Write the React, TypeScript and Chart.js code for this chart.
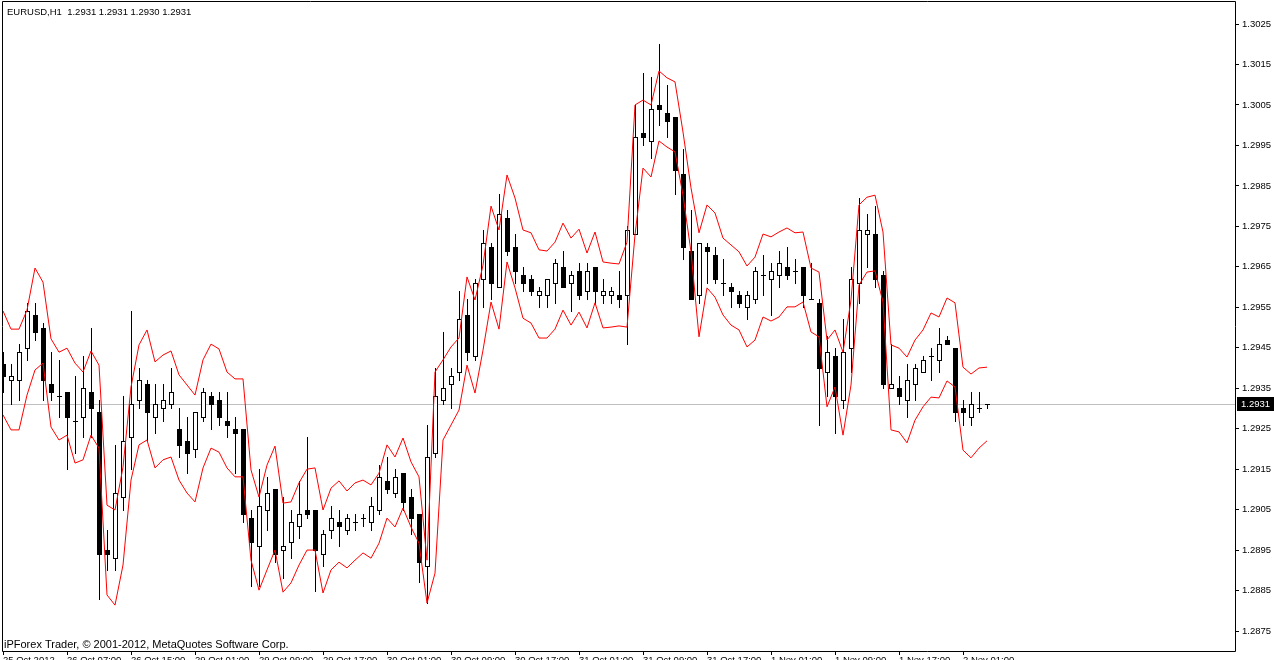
import React, { useEffect, useRef } from 'react';
import { Chart, registerables } from 'chart.js';

Chart.register(...registerables);

// ---- data (EURUSD H1) ----
const opens = [
  1.2941, 1.2937, 1.2937, 1.2945, 1.2953, 1.2950, 1.2936, 1.2933, 1.2934, 1.2927,
  1.2928, 1.2934, 1.2929, 1.2895, 1.2893, 1.2908, 1.2923, 1.2932, 1.2936, 1.2928,
  1.2930, 1.2931, 1.2925, 1.2922, 1.2920, 1.2928, 1.2933, 1.2932, 1.2927, 1.2925,
  1.2925, 1.2903, 1.2896, 1.2905, 1.2910, 1.2895, 1.2897, 1.2901, 1.2905, 1.2905,
  1.2894, 1.2900, 1.2902, 1.2900, 1.2902, 1.2903, 1.2902, 1.2905, 1.2912, 1.2909,
  1.2914, 1.2908, 1.2904, 1.2891, 1.2919, 1.2932, 1.2936, 1.2939, 1.2953, 1.2943,
  1.2962, 1.2970, 1.2960, 1.2977, 1.2970, 1.2963, 1.2962, 1.2958, 1.2958, 1.2961,
  1.2965, 1.2961, 1.2964, 1.2959, 1.2965, 1.2958, 1.2958, 1.2958, 1.2958, 1.2973,
  1.2998, 1.2996, 1.3005, 1.3003, 1.3002, 1.2988, 1.2969, 1.2958, 1.2970, 1.2968,
  1.2961, 1.2960, 1.2958, 1.2955, 1.2957, 1.2963, 1.2962, 1.2963, 1.2965, 1.2964,
  1.2965, 1.2957, 1.2956, 1.2939, 1.2943, 1.2932, 1.2945, 1.2961, 1.2973, 1.2973,
  1.2963, 1.2935, 1.2935, 1.2932, 1.2936, 1.2939, 1.2943, 1.2942, 1.2947, 1.2945,
  1.2930, 1.2928, 1.2930, 1.2931,
];
const highs = [
  1.2944, 1.2941, 1.2946, 1.2956, 1.2956, 1.2951, 1.2944, 1.2942, 1.2934, 1.2938,
  1.2943, 1.2950, 1.2932, 1.2900, 1.2921, 1.2933, 1.2954, 1.2940, 1.2937, 1.2936,
  1.2936, 1.2940, 1.2930, 1.2928, 1.2929, 1.2935, 1.2934, 1.2934, 1.2934, 1.2928,
  1.2925, 1.2905, 1.2915, 1.2913, 1.2910, 1.2908, 1.2905, 1.2912, 1.2923, 1.2905,
  1.2900, 1.2906, 1.2905, 1.2904, 1.2904, 1.2904, 1.2908, 1.2916, 1.2918, 1.2915,
  1.2914, 1.2910, 1.2904, 1.2926, 1.2940, 1.2949, 1.2940, 1.2959, 1.2957, 1.2962,
  1.2974, 1.2971, 1.2983, 1.2979, 1.2973, 1.2965, 1.2963, 1.2960, 1.2962, 1.2967,
  1.2969, 1.2964, 1.2966, 1.2966, 1.2965, 1.2962, 1.2960, 1.2964, 1.2975, 1.3005,
  1.3013, 1.3012, 1.3020, 1.3010, 1.3002, 1.2994, 1.2979, 1.2971, 1.2971, 1.2970,
  1.2967, 1.2961, 1.2959, 1.2959, 1.2965, 1.2968, 1.2966, 1.2969, 1.2970, 1.2967,
  1.2965, 1.2966, 1.2957, 1.2948, 1.2945, 1.2952, 1.2965, 1.2982, 1.2978, 1.2980,
  1.2964, 1.2946, 1.2938, 1.2941, 1.2941, 1.2943, 1.2945, 1.2950, 1.2948, 1.2945,
  1.2932, 1.2934, 1.2934, 1.2931,
];
const lows = [
  1.2934, 1.2931, 1.2932, 1.2942, 1.2947, 1.2932, 1.2932, 1.2928, 1.2915, 1.2919,
  1.2923, 1.2923, 1.2883, 1.2890, 1.2890, 1.2905, 1.2915, 1.2930, 1.2922, 1.2924,
  1.2927, 1.2930, 1.2918, 1.2914, 1.2918, 1.2927, 1.2925, 1.2926, 1.2923, 1.2914,
  1.2902, 1.2886, 1.2886, 1.2900, 1.2892, 1.2888, 1.2893, 1.2898, 1.2903, 1.2885,
  1.2891, 1.2898, 1.2896, 1.2899, 1.2900, 1.2901, 1.2900, 1.2904, 1.2909, 1.2908,
  1.2905, 1.2899, 1.2887, 1.2882, 1.2918, 1.2931, 1.2930, 1.2937, 1.2942, 1.2942,
  1.2955, 1.2957, 1.2960, 1.2968, 1.2961, 1.2959, 1.2958, 1.2955, 1.2955, 1.2956,
  1.2960, 1.2954, 1.2957, 1.2957, 1.2956, 1.2956, 1.2956, 1.2955, 1.2946, 1.2973,
  1.2995, 1.2992, 1.3000, 1.2997, 1.2983, 1.2967, 1.2957, 1.2956, 1.2961, 1.2961,
  1.2958, 1.2955, 1.2955, 1.2952, 1.2956, 1.2958, 1.2953, 1.2960, 1.2962, 1.2961,
  1.2955, 1.2957, 1.2926, 1.2933, 1.2924, 1.2930, 1.2939, 1.2956, 1.2965, 1.2960,
  1.2935, 1.2935, 1.2931, 1.2928, 1.2932, 1.2939, 1.2937, 1.2939, 1.2946, 1.2927,
  1.2926, 1.2926, 1.2929, 1.2930,
];
const closes = [
  1.2938, 1.2938, 1.2944, 1.2954, 1.2949, 1.2937, 1.2934, 1.2933, 1.2928, 1.2927,
  1.2935, 1.2930, 1.2894, 1.2894, 1.2909, 1.2922, 1.2931, 1.2937, 1.2929, 1.2931,
  1.2932, 1.2934, 1.2921, 1.2919, 1.2929, 1.2934, 1.2931, 1.2928, 1.2926, 1.2924,
  1.2904, 1.2897, 1.2906, 1.2909, 1.2894, 1.2896, 1.2902, 1.2904, 1.2904, 1.2895,
  1.2899, 1.2903, 1.2901, 1.2903, 1.2902, 1.2903, 1.2906, 1.2913, 1.2910, 1.2913,
  1.2907, 1.2903, 1.2892, 1.2918, 1.2933, 1.2935, 1.2938, 1.2952, 1.2944, 1.2961,
  1.2971, 1.2961, 1.2978, 1.2969, 1.2964, 1.2961, 1.2959, 1.2959, 1.2962, 1.2966,
  1.2960, 1.2963, 1.2958, 1.2964, 1.2959, 1.2959, 1.2959, 1.2957, 1.2974, 1.2997,
  1.2997, 1.3004, 1.3004, 1.3001, 1.2989, 1.2970, 1.2957, 1.2971, 1.2969, 1.2962,
  1.2961, 1.2959, 1.2956, 1.2958, 1.2964, 1.2963, 1.2964, 1.2966, 1.2963, 1.2964,
  1.2958, 1.2957, 1.2940, 1.2944, 1.2933, 1.2944, 1.2962, 1.2974, 1.2974, 1.2962,
  1.2936, 1.2936, 1.2933, 1.2937, 1.2940, 1.2942, 1.2943, 1.2946, 1.2946, 1.2929,
  1.2929, 1.2931, 1.2930, 1.2931,
];
const upperBand = [
  1.29541, 1.29496, 1.29496, 1.29543, 1.29647, 1.29612, 1.29472, 1.29439, 1.29449, 1.29412,
  1.29390, 1.29442, 1.29407, 1.29061, 1.29049, 1.29155, 1.29353, 1.29457, 1.29494, 1.29415,
  1.29432, 1.29442, 1.29383, 1.29358, 1.29333, 1.29420, 1.29459, 1.29447, 1.29390, 1.29373,
  1.29373, 1.29148, 1.29081, 1.29160, 1.29207, 1.29066, 1.29069, 1.29116, 1.29150, 1.29153,
  1.29049, 1.29103, 1.29121, 1.29096, 1.29116, 1.29123, 1.29111, 1.29140, 1.29210, 1.29180,
  1.29227, 1.29168, 1.29131, 1.28925, 1.29390, 1.29420, 1.29452, 1.29474, 1.29625, 1.29568,
  1.29654, 1.29800, 1.29741, 1.29877, 1.29820, 1.29741, 1.29734, 1.29692, 1.29689, 1.29711,
  1.29758, 1.29721, 1.29743, 1.29684, 1.29736, 1.29662, 1.29659, 1.29657, 1.29711, 1.30050,
  1.30062, 1.30050, 1.30134, 1.30117, 1.30107, 1.29983, 1.29845, 1.29734, 1.29803, 1.29783,
  1.29721, 1.29704, 1.29687, 1.29652, 1.29674, 1.29731, 1.29724, 1.29736, 1.29746, 1.29734,
  1.29736, 1.29647, 1.29637, 1.29469, 1.29494, 1.29439, 1.29568, 1.29803, 1.29822, 1.29827,
  1.29736, 1.29457, 1.29449, 1.29427, 1.29469, 1.29494, 1.29536, 1.29526, 1.29573, 1.29561,
  1.29402, 1.29385, 1.29400, 1.29402,
];
const lowerBand = [
  1.29284, 1.29247, 1.29247, 1.29333, 1.29395, 1.29412, 1.29254, 1.29222, 1.29234, 1.29165,
  1.29173, 1.29234, 1.29202, 1.28839, 1.28814, 1.28913, 1.29123, 1.29210, 1.29222, 1.29153,
  1.29173, 1.29180, 1.29123, 1.29091, 1.29069, 1.29153, 1.29202, 1.29192, 1.29153, 1.29131,
  1.29131, 1.28925, 1.28851, 1.28901, 1.28950, 1.28846, 1.28869, 1.28913, 1.28950, 1.28950,
  1.28844, 1.28901, 1.28920, 1.28906, 1.28925, 1.28943, 1.28930, 1.28967, 1.29029, 1.29007,
  1.29054, 1.29007, 1.28967, 1.28819, 1.28893, 1.29222, 1.29259, 1.29296, 1.29407, 1.29338,
  1.29444, 1.29563, 1.29496, 1.29662, 1.29598, 1.29523, 1.29511, 1.29474, 1.29474, 1.29496,
  1.29543, 1.29506, 1.29538, 1.29499, 1.29561, 1.29499, 1.29501, 1.29504, 1.29501, 1.29729,
  1.29894, 1.29872, 1.29961, 1.29946, 1.29934, 1.29827, 1.29687, 1.29477, 1.29598, 1.29575,
  1.29531, 1.29506, 1.29494, 1.29452, 1.29469, 1.29526, 1.29516, 1.29526, 1.29551, 1.29551,
  1.29563, 1.29489, 1.29477, 1.29304, 1.29353, 1.29234, 1.29358, 1.29605, 1.29637, 1.29640,
  1.29563, 1.29247, 1.29242, 1.29215, 1.29271, 1.29304, 1.29328, 1.29326, 1.29368, 1.29353,
  1.29197, 1.29178, 1.29202, 1.29220,
];
const timeTickLabels = [
  '25 Oct 2012', '26 Oct 07:00', '26 Oct 15:00', '29 Oct 01:00', '29 Oct 09:00',
  '29 Oct 17:00', '30 Oct 01:00', '30 Oct 09:00', '30 Oct 17:00', '31 Oct 01:00',
  '31 Oct 09:00', '31 Oct 17:00', '1 Nov 01:00', '1 Nov 09:00', '1 Nov 17:00', '2 Nov 01:00',
];
const barsPerTimeLabel = 8;
const priceTicks = [
  1.2875, 1.2885, 1.2895, 1.2905, 1.2915, 1.2925, 1.2935, 1.2945,
  1.2955, 1.2965, 1.2975, 1.2985, 1.2995, 1.3005, 1.3015, 1.3025,
];
const symbolName = 'EURUSD';
const timeframe = 'H1';
const copyrightText = 'iPForex Trader, \u00A9 2001-2012, MetaQuotes Software Corp.';

const FONT_FAMILY = '"Liberation Sans", Arial, sans-serif';
const FONT_SIZE = 9.5;
const FONT = `${FONT_SIZE}px ${FONT_FAMILY}`;
const COPY_FONT = `11px ${FONT_FAMILY}`;

const mtPlugin = {
  id: 'mtPlugin',
  beforeDraw(chart: any) {
    const ctx = chart.ctx;
    ctx.save();
    ctx.fillStyle = '#FFFFFF';
    ctx.fillRect(0, 0, chart.width, chart.height);
    ctx.restore();
  },
  beforeDatasetsDraw(chart: any) {
    const ctx = chart.ctx;
    const xs = chart.scales.x;
    const ys = chart.scales.y;
    const a = chart.chartArea;
    ctx.save();
    ctx.beginPath();
    ctx.rect(a.left, a.top, a.right - a.left, a.bottom - a.top);
    ctx.clip();
    const last = closes[closes.length - 1];
    const py = Math.round(ys.getPixelForValue(last));
    ctx.fillStyle = '#C0C0C0';
    ctx.fillRect(a.left, py, a.right - a.left, 1);
    for (let i = 0; i < closes.length; i++) {
      const x = Math.round(xs.getPixelForValue(i));
      const yH = Math.round(ys.getPixelForValue(highs[i]));
      const yL = Math.round(ys.getPixelForValue(lows[i]));
      const yO = Math.round(ys.getPixelForValue(opens[i]));
      const yC = Math.round(ys.getPixelForValue(closes[i]));
      ctx.fillStyle = '#000000';
      ctx.fillRect(x, yH, 1, yL - yH + 1);
      const top = Math.min(yO, yC);
      const bot = Math.max(yO, yC);
      if (bot === top) {
        ctx.fillRect(x - 2, top, 5, 1);
      } else {
        ctx.fillRect(x - 2, top, 5, bot - top + 1);
        if (closes[i] > opens[i] && bot - top >= 2) {
          ctx.fillStyle = '#FFFFFF';
          ctx.fillRect(x - 1, top + 1, 3, bot - top - 1);
        }
      }
    }
    ctx.restore();
  },
  afterDraw(chart: any) {
    const ctx = chart.ctx;
    const ys = chart.scales.y;
    const a = chart.chartArea;
    ctx.save();
    ctx.strokeStyle = '#000000';
    ctx.lineWidth = 1;
    ctx.beginPath();
    ctx.moveTo(a.left + 0.5, a.top - 0.5);
    ctx.lineTo(a.right + 0.5, a.top - 0.5);
    ctx.lineTo(a.right + 0.5, a.bottom + 0.5);
    ctx.lineTo(a.left + 0.5, a.bottom + 0.5);
    ctx.closePath();
    ctx.stroke();
    const n = closes.length - 1;
    const title = `${symbolName},${timeframe}  ${opens[n].toFixed(4)} ${highs[n].toFixed(4)} ${lows[n].toFixed(4)} ${closes[n].toFixed(4)}`;
    ctx.font = FONT;
    ctx.fillStyle = '#000000';
    ctx.textBaseline = 'alphabetic';
    ctx.textAlign = 'left';
    ctx.fillText(title, 7, 14.5);
    ctx.font = COPY_FONT;
    ctx.fillText(copyrightText, 4, 648);
    const last = closes[n];
    const py = Math.round(ys.getPixelForValue(last));
    ctx.fillStyle = '#000000';
    ctx.fillRect(a.right + 2, py - 7, 37, 14);
    ctx.fillStyle = '#FFFFFF';
    ctx.font = FONT;
    ctx.textBaseline = 'middle';
    ctx.fillText(last.toFixed(4), a.right + 6, py + 0.5);
    ctx.restore();
  },
};

export default function App() {
  const canvasRef = useRef<HTMLCanvasElement | null>(null);

  useEffect(() => {
    document.body.style.margin = '0';
    const canvas = canvasRef.current;
    if (!canvas) return;
    const chart = new Chart(canvas, {
      type: 'line',
      data: {
        datasets: [
          {
            label: 'Upper',
            data: upperBand.map((v, i) => ({ x: i, y: v })),
            borderColor: '#FF0000',
            borderWidth: 1,
            pointRadius: 0,
            tension: 0,
            fill: false,
          },
          {
            label: 'Lower',
            data: lowerBand.map((v, i) => ({ x: i, y: v })),
            borderColor: '#FF0000',
            borderWidth: 1,
            pointRadius: 0,
            tension: 0,
            fill: false,
          },
        ],
      },
      options: {
        animation: false,
        responsive: false,
        devicePixelRatio: 1,
        events: [],
        layout: { padding: { left: 2, top: 2, right: 0, bottom: 0 } },
        plugins: { legend: { display: false }, tooltip: { enabled: false }, title: { display: false } },
        scales: {
          x: {
            type: 'linear',
            position: 'bottom',
            min: -0.125,
            max: 154,
            afterBuildTicks: (s: any) => {
              s.ticks = timeTickLabels.map((_, k) => ({ value: k * barsPerTimeLabel }));
            },
            afterFit: (s: any) => {
              s.height = 9;
              s.paddingLeft = 0;
              s.paddingRight = 0;
            },
            ticks: {
              autoSkip: false,
              maxRotation: 0,
              minRotation: 0,
              align: 'start',
              padding: 0,
              color: '#000000',
              font: { family: FONT_FAMILY, size: FONT_SIZE },
              callback: (v: any) => timeTickLabels[Math.round(v / barsPerTimeLabel)] ?? '',
            },
            grid: { drawOnChartArea: false, drawTicks: true, tickLength: 4, color: '#000000' },
            border: { display: false },
          },
          y: {
            type: 'linear',
            position: 'right',
            min: 1.287006,
            max: 1.303044,
            afterBuildTicks: (s: any) => {
              s.ticks = priceTicks.map((v) => ({ value: v }));
            },
            afterFit: (s: any) => {
              s.width = 39;
              s.paddingTop = 0;
              s.paddingBottom = 0;
            },
            ticks: {
              padding: 3,
              color: '#000000',
              font: { family: FONT_FAMILY, size: FONT_SIZE },
              callback: (v: any) => Number(v).toFixed(4),
            },
            grid: { drawOnChartArea: false, drawTicks: true, tickLength: 4, color: '#000000' },
            border: { display: false },
          },
        },
      },
      plugins: [mtPlugin],
    } as any);
    return () => chart.destroy();
  }, []);

  return (
    <div style={{ position: 'absolute', left: 0, top: 0, width: 1274, height: 660, background: '#FFFFFF' }}>
      <canvas ref={canvasRef} width={1274} height={660} style={{ display: 'block' }} />
    </div>
  );
}
